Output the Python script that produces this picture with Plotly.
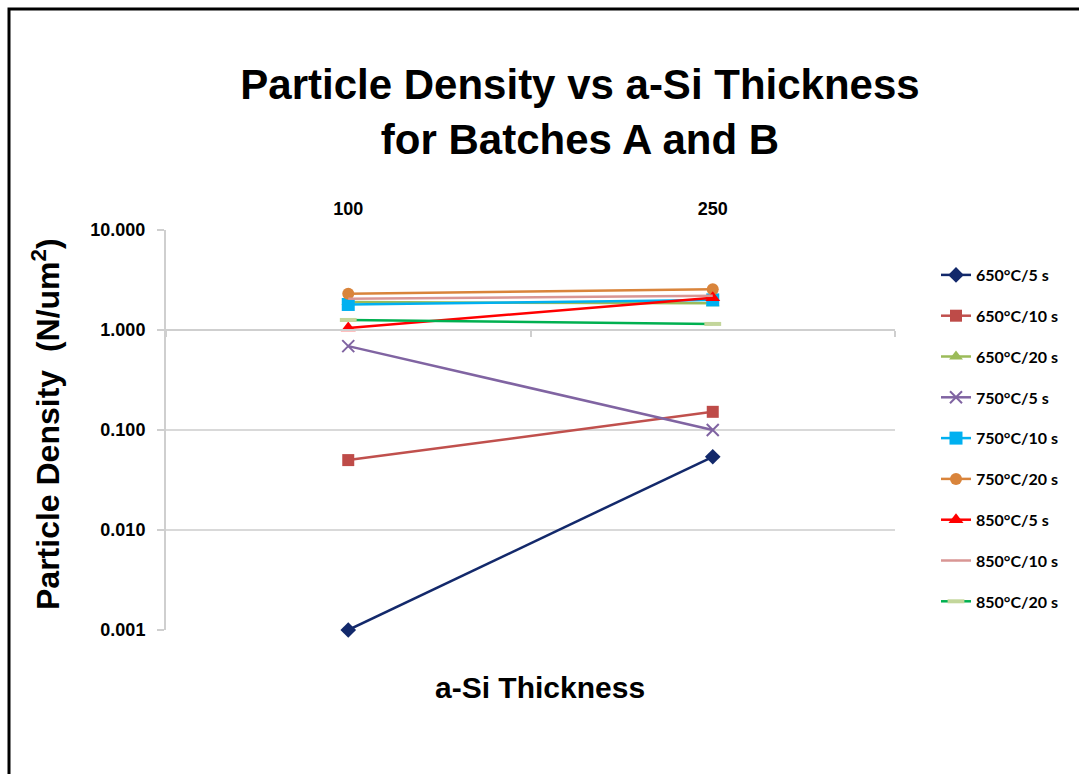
import plotly.graph_objects as go

# ---- data ----
thickness = ["100", "250"]
series_names = ["650°C/5 s", "650°C/10 s", "650°C/20 s", "750°C/5 s", "750°C/10 s",
                "750°C/20 s", "850°C/5 s", "850°C/10 s", "850°C/20 s"]
d_650_5 = [0.001, 0.054]
d_650_10 = [0.050, 0.152]
d_650_20 = [1.90, 1.85]
d_750_5 = [0.69, 0.100]
d_750_10 = [1.80, 2.00]
d_750_20 = [2.30, 2.55]
d_850_5 = [1.05, 2.10]
d_850_10 = [2.05, 2.20]
d_850_20 = [1.26, 1.15]
y_ticks = [0.001, 0.01, 0.1, 1, 10]

series_values = [d_650_5, d_650_10, d_650_20, d_750_5, d_750_10, d_750_20, d_850_5, d_850_10, d_850_20]

styles = [
    dict(line=dict(color="#13296b", width=2.5), marker=dict(symbol="diamond", size=12, color="#13296b")),
    dict(line=dict(color="#c0504d", width=2.5), marker=dict(symbol="square", size=12, color="#be4b48")),
    dict(line=dict(color="#9bbb59", width=2.5), marker=dict(symbol="triangle-up", size=12, color="#9bbb59")),
    dict(line=dict(color="#8064a2", width=2.5), marker=dict(symbol="x-thin", size=12, color="#8064a2",
                                                            line=dict(color="#8064a2", width=2))),
    dict(line=dict(color="#00b0f0", width=2.5), marker=dict(symbol="square", size=13, color="#00b0f0")),
    dict(line=dict(color="#d9843b", width=2.5), marker=dict(symbol="circle", size=12, color="#d9843b")),
    dict(line=dict(color="#ff0000", width=2.5), marker=dict(symbol="triangle-up", size=13, color="#ff0000")),
    dict(line=dict(color="#d99694", width=2.5), marker=dict(size=1, opacity=0)),
    dict(line=dict(color="#00b050", width=2.5), marker=dict(symbol="line-ew", size=12, color="#c3d69b",
                                                            line=dict(color="#c3d69b", width=4))),
]

xpos = list(range(len(thickness)))

fig = go.Figure()
for name, vals, st in zip(series_names, series_values, styles):
    fig.add_trace(go.Scatter(x=xpos, y=vals, name=name, mode="lines+markers",
                             legendgroup=name, cliponaxis=False, **st))

# invisible helper trace to draw the crossing x-axis line at y=1
fig.add_trace(go.Scatter(x=[0], y=[1], xaxis="x2", mode="markers", marker=dict(opacity=0),
                         showlegend=False, hoverinfo="skip"))

W, H = 1079, 774
L, R, T, B = 166, 895, 230, 630
ARIAL = "Liberation Sans, Arial, sans-serif"

def px(x):
    return (x - L) / (R - L)

def py(y):
    return (B - y) / (B - T)

fig.update_layout(
    width=W, height=H,
    margin=dict(l=L, r=W - R, t=T, b=H - B),
    paper_bgcolor="white", plot_bgcolor="white",
    font=dict(family=ARIAL, color="black"),
    title=dict(text="<b>Particle Density vs a-Si Thickness<br>for Batches A and B</b>",
               x=px(580), xref="paper", xanchor="center",
               y=1 - 99 / H, yanchor="top", yref="container",
               font=dict(size=42, family=ARIAL, color="black")),
    xaxis=dict(range=[-0.5, 1.5], tickvals=xpos, ticktext=thickness, side="top",
               showgrid=False, zeroline=False, showline=False, ticks="",
               ticklabelstandoff=10,
               tickfont=dict(size=18, family=ARIAL, weight="bold")),
    xaxis2=dict(matches="x", overlaying="x", anchor="free", position=py(330),
                range=[-0.5, 1.5], tickvals=[-0.5, 0.5, 1.5], showticklabels=False,
                showgrid=False, zeroline=False, showline=True, linecolor="#cfcfcf", linewidth=2,
                ticks="outside", ticklen=6, tickcolor="#cfcfcf", tickwidth=2),
    yaxis=dict(type="log", range=[-3, 1], tickvals=y_ticks, tickformat=".3f",
               showgrid=True, gridcolor="#d9d9d9", gridwidth=1.5,
               showline=True, linecolor="#cfcfcf", linewidth=2,
               ticks="outside", ticklen=7, tickcolor="#cfcfcf", tickwidth=2,
               zeroline=False, ticklabelstandoff=8,
               tickfont=dict(size=18, family=ARIAL, weight="bold")),
    legend=dict(x=px(936), y=py(258), xanchor="left", yanchor="top",
                tracegroupgap=17, itemwidth=30,
                font=dict(size=16, family="Lato, Liberation Sans, sans-serif", weight="bold")),
    showlegend=True,
)

fig.add_annotation(text="<b>Particle Density  (N/um<sup>2</sup>)</b>", textangle=-90,
                   x=px(46), y=py(424), xref="paper", yref="paper", showarrow=False,
                   xanchor="center", yanchor="middle",
                   font=dict(size=32, family=ARIAL))
fig.add_annotation(text="<b>a-Si Thickness</b>",
                   x=px(540), y=py(687), xref="paper", yref="paper", showarrow=False,
                   xanchor="center", yanchor="middle",
                   font=dict(size=30, family=ARIAL))

# outer frame
fig.add_shape(type="rect", xref="paper", yref="paper",
              x0=px(9), x1=px(1095), y0=py(790), y1=py(9),
              line=dict(color="black", width=3), layer="below")

fig.write_html("out.html")
